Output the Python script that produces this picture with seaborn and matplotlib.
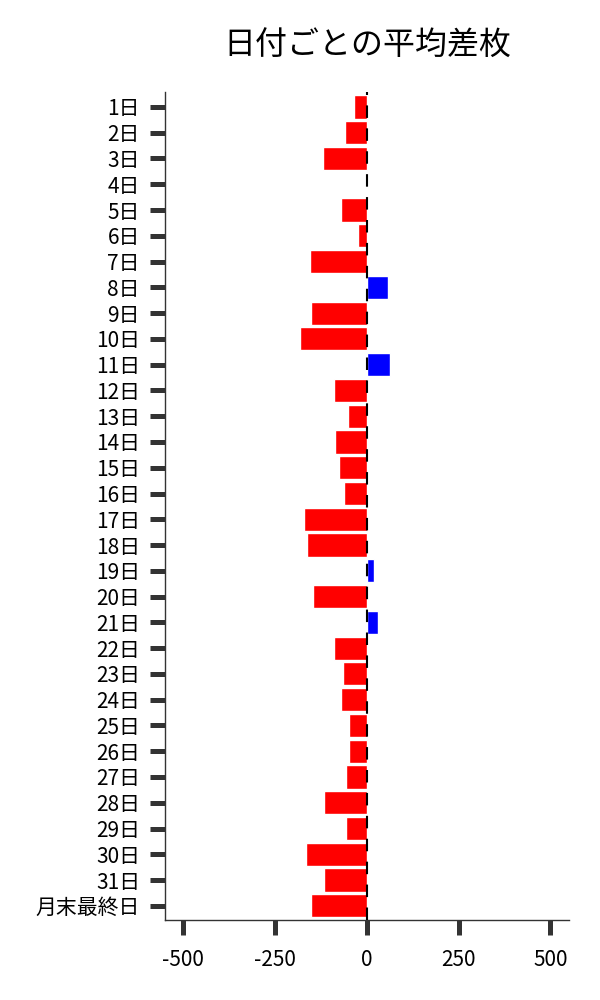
import pandas as pd
import matplotlib
matplotlib.use("Agg")
import matplotlib.pyplot as plt
import seaborn as sns

# Days of month and the average difference per day
days = [f"{i}日" for i in range(1, 32)] + ["月末最終日"]
avg_diff = [-35, -60, -120, -2, -71, -24, -155, 57, -152, -182,
            62, -90, -52, -87, -76, -63, -171, -163, 19, -147,
            30, -90, -65, -71, -49, -49, -57, -117, -57, -166,
            -117, -152]

df = pd.DataFrame({"day": days, "diff": avg_diff})
df["sign"] = ["plus" if v > 0 else "minus" for v in df["diff"]]

sns.set_theme(style="ticks")
plt.rcParams["font.family"] = ["Noto Sans CJK JP", "DejaVu Sans"]
plt.rcParams["axes.unicode_minus"] = False

fig = plt.figure(figsize=(6, 10), dpi=100)
ax = fig.add_axes([0.275, 0.08, 0.673, 0.828])

sns.barplot(data=df, x="diff", y="day", hue="sign",
            palette={"plus": "#0000FF", "minus": "#FF0000"},
            width=0.9, legend=False, ax=ax, saturation=1)

ax.axvline(0, color="black", lw=1.5, ls="--", dashes=(6, 5), zorder=5)

ax.set_xlim(-550, 550)
ax.set_ylim(len(days) - 0.45, -0.58)
ax.set_xticks([-500, -250, 0, 250, 500])
ax.set_xlabel("")
ax.set_ylabel("")
ax.tick_params(axis="both", length=11, width=3.6, color="#333333",
               labelsize=15, labelcolor="black", pad=7)
ax.tick_params(axis="x", pad=10)
for s in ["left", "bottom"]:
    ax.spines[s].set_color("#333333")
    ax.spines[s].set_linewidth(1.0)
sns.despine(ax=ax)

ax.set_title("日付ごとの平均差枚", fontsize=23, color="black", pad=27)

fig.savefig("out.png", dpi=100)
